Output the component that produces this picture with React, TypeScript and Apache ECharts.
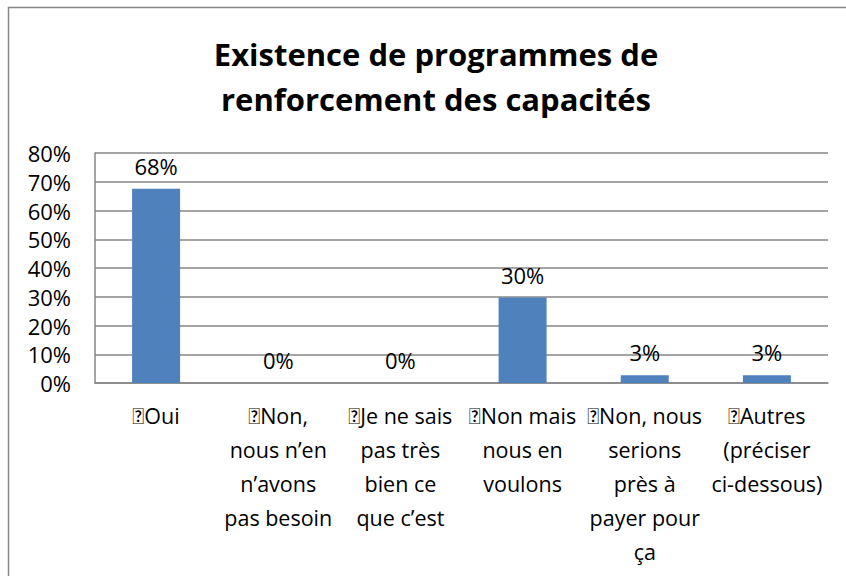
import React, { useEffect, useRef } from "react";
import * as echarts from "echarts";

const BOX = "\uF0A7";
const categories = [
  BOX + "Oui",
  BOX + "Non,\nnous n’en\nn’avons\npas besoin",
  BOX + "Je ne sais\npas très\nbien ce\nque c’est",
  BOX + "Non mais\nnous en\nvoulons",
  BOX + "Non, nous\nserions\nprès à\npayer pour\nça",
  BOX + "Autres\n(préciser\nci-dessous)",
];
const values = [0.676, 0, 0, 0.297, 0.027, 0.027];
const titleText = "Existence de programmes de\nrenforcement des capacités";
const FONT = "'Open Sans', 'Noto Sans', sans-serif";

export default function App() {
  const ref = useRef<HTMLDivElement>(null);
  useEffect(() => {
    if (!ref.current) return;
    const chart = echarts.init(ref.current, null, { renderer: "svg" });
    chart.setOption({
      animation: false,
      backgroundColor: "#ffffff",
      textStyle: { fontFamily: FONT },
      title: {
        text: titleText,
        left: 431,
        top: 26,
        textAlign: "center",
        textStyle: {
          fontFamily: FONT,
          fontSize: 31,
          fontWeight: "bold",
          color: "#000",
          lineHeight: 45,
        },
      },
      graphic: [
        {
          type: "rect",
          shape: { x: 8.5, y: 7.5, width: 870, height: 620 },
          style: { fill: "none", stroke: "#868686", lineWidth: 1.5 },
          silent: true,
        },
      ],
      grid: { left: 95, right: 18, top: 153, bottom: 193 },
      xAxis: {
        type: "category",
        data: categories,
        axisLine: { show: true, lineStyle: { color: "#868686", width: 1.5 } },
        axisTick: { show: false },
        axisLabel: {
          interval: 0,
          fontFamily: FONT,
          fontSize: 21.5,
          lineHeight: 34,
          color: "#000",
          margin: 15,
          verticalAlign: "top",
          formatter: (v: string) => v.split(BOX).join("{b|" + BOX + "}"),
          rich: {
            b: {
              fontFamily: "Lato",
              fontSize: 22,
              lineHeight: 34,
              color: "#000",
            },
          },
        },
      },
      yAxis: {
        type: "value",
        min: 0,
        max: 0.8,
        interval: 0.1,
        axisLine: { show: true, lineStyle: { color: "#868686", width: 1.5 } },
        axisTick: { show: false },
        splitLine: { show: true, lineStyle: { color: "#868686", width: 1.5 } },
        axisLabel: {
          fontFamily: FONT,
          fontSize: 22,
          color: "#000",
          margin: 24,
          formatter: (v: number) => Math.round(v * 100) + "%",
        },
      },
      series: [
        {
          type: "bar",
          data: values,
          barWidth: 48,
          itemStyle: { color: "#4F81BD" },
          label: {
            show: true,
            position: "top",
            distance: 12,
            fontFamily: FONT,
            fontSize: 22,
            color: "#000",
            formatter: (p: any) => Math.round(p.value * 100) + "%",
          },
        },
      ],
    });
    return () => chart.dispose();
  }, []);
  return (
    <div
      ref={ref}
      style={{ position: "fixed", left: 0, top: 0, width: 846, height: 576 }}
    />
  );
}
